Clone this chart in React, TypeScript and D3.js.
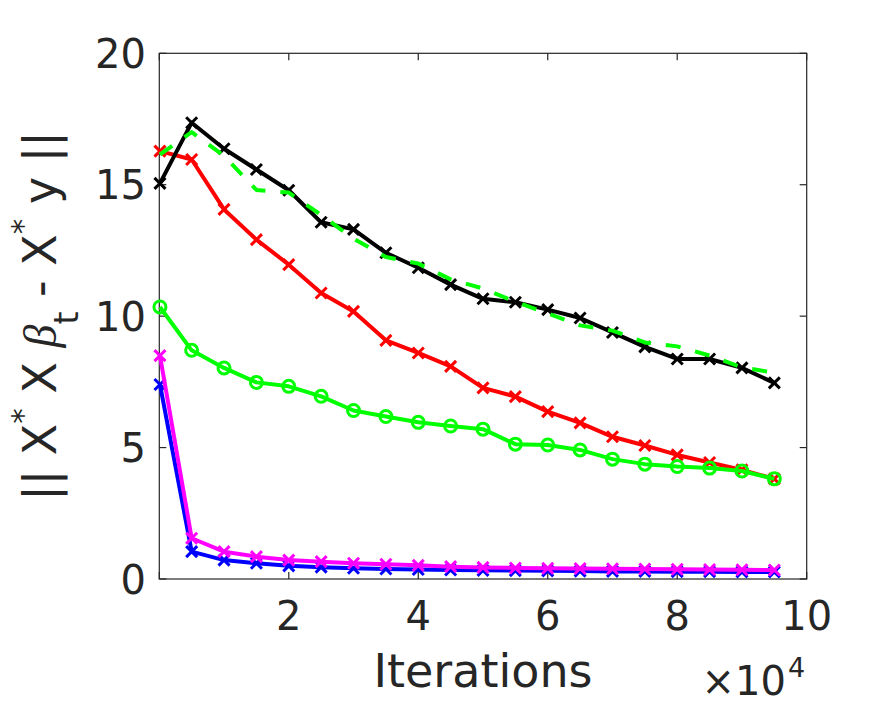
import React from "react";
import * as d3 from "d3";

const iterations = [0.01, 0.5, 1, 1.5, 2, 2.5, 3, 3.5, 4, 4.5, 5, 5.5, 6, 6.5, 7, 7.5, 8, 8.5, 9, 9.5];
const blackSeries = [15.05, 17.36, 16.37, 15.58, 14.79, 13.57, 13.3, 12.41, 11.84, 11.2, 10.66, 10.53, 10.25, 9.93, 9.38, 8.83, 8.37, 8.37, 8.03, 7.46];
const greenDashedSeries = [16.15, 17.0, 16.1, 14.8, 14.7, 13.85, 12.95, 12.25, 12.0, 11.4, 11.05, 10.55, 10.1, 9.65, 9.45, 9.0, 8.85, 8.5, 8.05, 7.85];
const redSeries = [16.28, 15.96, 14.06, 12.91, 11.96, 10.88, 10.18, 9.08, 8.6, 8.09, 7.27, 6.94, 6.37, 5.94, 5.41, 5.08, 4.72, 4.43, 4.15, 3.81];
const greenCircleSeries = [10.35, 8.7, 8.03, 7.48, 7.33, 6.95, 6.41, 6.18, 5.96, 5.82, 5.7, 5.13, 5.1, 4.91, 4.56, 4.37, 4.28, 4.22, 4.11, 3.81];
const blueSeries = [7.4, 1.04, 0.72, 0.6, 0.5, 0.45, 0.41, 0.38, 0.36, 0.34, 0.33, 0.32, 0.31, 0.3, 0.29, 0.29, 0.28, 0.28, 0.27, 0.27];
const magentaSeries = [8.5, 1.55, 1.04, 0.85, 0.72, 0.66, 0.6, 0.56, 0.52, 0.47, 0.44, 0.42, 0.41, 0.4, 0.39, 0.38, 0.37, 0.36, 0.35, 0.34];

const xTicks = [0, 2, 4, 6, 8, 10];
const xTickLabels = ["2", "4", "6", "8", "10"];
const yTicks = [0, 5, 10, 15, 20];

const W = 891;
const H = 703;
const L = 159.3, R = 806.7, T = 53.3, B = 579;

const AX = "#262626";
const FONT = "'DejaVu Sans', sans-serif";

type Series = { values: number[]; color: string; marker: "x" | "o" | "none"; dash?: string };

const seriesList: Series[] = [
  { values: redSeries, color: "#FF0000", marker: "x" },
  { values: blackSeries, color: "#000000", marker: "x" },
  { values: greenCircleSeries, color: "#00FF00", marker: "o" },
  { values: greenDashedSeries, color: "#00FF00", marker: "none", dash: "15 15" },
  { values: blueSeries, color: "#0000FF", marker: "x" },
  { values: magentaSeries, color: "#FF00FF", marker: "x" },
];

export default function App() {
  const x = d3.scaleLinear().domain([0, 10]).range([L, R]);
  const y = d3.scaleLinear().domain([0, 20]).range([B, T]);
  const line = d3
    .line<number>()
    .x((_, i) => x(iterations[i]))
    .y((d) => y(d));
  const tl = 7;
  const ms = 5.5;

  return (
    <svg width={W} height={H} style={{ position: "absolute", left: 0, top: 0, background: "#fff" }}>
      <rect x={0} y={0} width={W} height={H} fill="#fff" />
      <rect x={L} y={T} width={R - L} height={B - T} fill="none" stroke={AX} strokeWidth={1.2} />
      {xTicks.map((t) => (
        <g key={"xt" + t}>
          <line x1={x(t)} x2={x(t)} y1={B} y2={B - tl} stroke={AX} strokeWidth={1.2} />
          <line x1={x(t)} x2={x(t)} y1={T} y2={T + tl} stroke={AX} strokeWidth={1.2} />
        </g>
      ))}
      {yTicks.map((t) => (
        <g key={"yt" + t}>
          <line x1={L} x2={L + tl} y1={y(t)} y2={y(t)} stroke={AX} strokeWidth={1.2} />
          <line x1={R} x2={R - tl} y1={y(t)} y2={y(t)} stroke={AX} strokeWidth={1.2} />
          <text x={146} y={y(t) + 14.5} textAnchor="end" fontSize={40} fontFamily={FONT} fill={AX}>
            {String(t)}
          </text>
        </g>
      ))}
      {xTicks.slice(1).map((t, i) => (
        <text key={"xl" + t} x={x(t)} y={629.5} textAnchor="middle" fontSize={40} fontFamily={FONT} fill={AX}>
          {xTickLabels[i]}
        </text>
      ))}
      {seriesList.map((s, si) => (
        <g key={"s" + si}>
          <path
            d={line(s.values) || ""}
            fill="none"
            stroke={s.color}
            strokeWidth={4}
            strokeDasharray={s.dash}
            strokeLinejoin="round"
          />
          {s.marker === "x" &&
            s.values.map((v, i) => {
              const cx = x(iterations[i]);
              const cy = y(v);
              return (
                <path
                  key={i}
                  d={`M${cx - ms},${cy - ms}L${cx + ms},${cy + ms}M${cx - ms},${cy + ms}L${cx + ms},${cy - ms}`}
                  stroke={s.color}
                  strokeWidth={3}
                  fill="none"
                />
              );
            })}
          {s.marker === "o" &&
            s.values.map((v, i) => (
              <circle key={i} cx={x(iterations[i])} cy={y(v)} r={6} fill="none" stroke={s.color} strokeWidth={3} />
            ))}
        </g>
      ))}
      <text x={(L + R) / 2} y={686.5} textAnchor="middle" fontSize={46} fontFamily={FONT} fill={AX}>
        Iterations
      </text>
      <text x={786} y={694.5} textAnchor="end" fontSize={40} fontFamily={FONT} fill={AX}>
        {"×10"}
      </text>
      <text x={788} y={677} textAnchor="start" fontSize={27} fontFamily={FONT} fill={AX}>
        4
      </text>
      <text
        transform="translate(56,316) rotate(-90)"
        textAnchor="middle"
        fontSize={46}
        fontFamily={FONT}
        fill={AX}
        style={{ whiteSpace: "pre" }}
      >
        <tspan>{"|| X"}</tspan>
        <tspan fontSize={31} dy={-23}>{"*"}</tspan>
        <tspan dy={23}>{" X "}</tspan>
        <tspan fontStyle="italic" fontFamily="'Liberation Serif', serif">{"β"}</tspan>
        <tspan fontSize={33} dy={22}>{"t"}</tspan>
        <tspan dy={-22}>{" - X"}</tspan>
        <tspan fontSize={31} dy={-23}>{"*"}</tspan>
        <tspan dy={23}>{" y ||"}</tspan>
      </text>
    </svg>
  );
}
